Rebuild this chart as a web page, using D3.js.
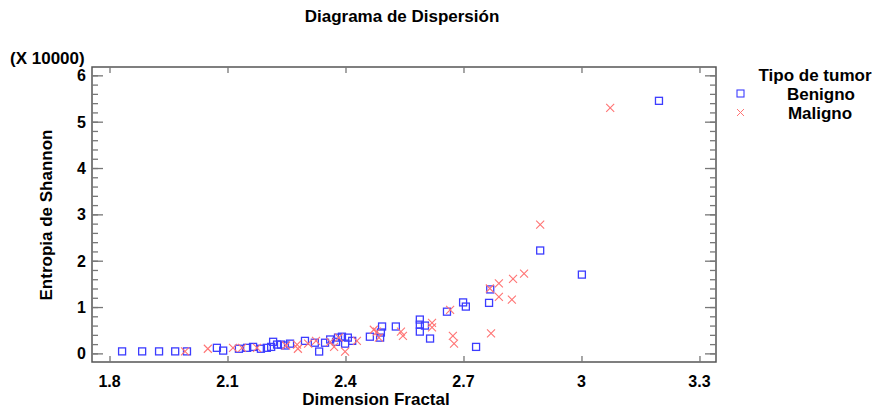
<!DOCTYPE html>
<html>
<head>
<meta charset="utf-8">
<script src="https://cdn.jsdelivr.net/npm/d3@7"></script>
<style>
  html, body { margin: 0; padding: 0; background: #fff; }
  text { font-family: "Liberation Sans", Arial, sans-serif; font-weight: bold; fill: #000; }
</style>
</head>
<body>
<svg id="chart" width="878" height="410"></svg>
<script>
// ---- data (y in units of 10000) ----
const benignoX = [1.832,1.883,1.926,1.967,1.997,2.073,2.089,2.129,2.150,2.165,2.185,2.200,2.211,2.216,2.226,2.236,2.246,2.259,2.297,2.322,2.333,2.348,2.361,2.376,2.381,2.391,2.399,2.406,2.417,2.462,2.493,2.490,2.488,2.528,2.589,2.589,2.602,2.589,2.615,2.658,2.699,2.706,2.732,2.765,2.768,2.895,3.001,3.197];
const benignoY = [0.043,0.043,0.043,0.043,0.043,0.12,0.06,0.10,0.12,0.14,0.10,0.12,0.14,0.25,0.19,0.19,0.17,0.21,0.27,0.23,0.04,0.23,0.30,0.25,0.34,0.36,0.21,0.34,0.27,0.36,0.58,0.45,0.34,0.58,0.73,0.62,0.60,0.47,0.32,0.90,1.10,1.01,0.14,1.09,1.38,2.22,1.70,5.45];
const malignoX = [1.992,2.050,2.114,2.137,2.175,2.249,2.277,2.279,2.305,2.325,2.361,2.371,2.383,2.399,2.429,2.472,2.480,2.485,2.541,2.546,2.620,2.620,2.666,2.673,2.676,2.770,2.767,2.790,2.790,2.823,2.826,2.854,2.895,3.073];
const malignoY = [0.043,0.10,0.12,0.12,0.12,0.17,0.19,0.10,0.21,0.27,0.25,0.14,0.34,0.04,0.27,0.51,0.47,0.34,0.47,0.38,0.66,0.56,0.94,0.38,0.21,0.43,1.40,1.51,1.22,1.16,1.61,1.72,2.78,5.30];
const xTicks = [1.8, 2.1, 2.4, 2.7, 3.0, 3.3];
const xTickLabels = ["1.8", "2.1", "2.4", "2.7", "3", "3.3"];
const yTicks = [0, 1, 2, 3, 4, 5, 6];
const yMinorTicks = d3.range(-0.0, 6.01, 0.2).map(v => +v.toFixed(1));
const seriesNames = ["Benigno", "Maligno"];

const svg = d3.select("#chart");
const L = 92, R = 716, T = 67, B = 362;
const x = d3.scaleLinear().domain([1.7555, 3.342]).range([L, R]);
const y = d3.scaleLinear().domain([-0.186, 6.18]).range([B, T]);

const blue = "#3c3cff", red = "#ff7474", axisCol = "#555";

// title
svg.append("text").attr("x", 402).attr("y", 22).attr("text-anchor", "middle")
  .style("font-size", "17px").text("Diagrama de Dispersión");
svg.append("text").attr("x", 10).attr("y", 64).style("font-size", "17px").text("(X 10000)");

// frame
svg.append("rect").attr("x", L).attr("y", T).attr("width", R - L).attr("height", B - T)
  .attr("fill", "none").attr("stroke", axisCol).attr("stroke-width", 1.5);

// axes via d3
const gB = svg.append("g").attr("transform", `translate(0,${B})`)
  .call(d3.axisTop(x).tickValues(xTicks).tickSize(6).tickFormat(""));
const gT = svg.append("g").attr("transform", `translate(0,${T})`)
  .call(d3.axisBottom(x).tickValues(xTicks).tickSize(6).tickFormat(""));
const gLmin = svg.append("g").attr("transform", `translate(${L},0)`)
  .call(d3.axisRight(y).tickValues(yMinorTicks).tickSize(6).tickFormat(""));
const gLmaj = svg.append("g").attr("transform", `translate(${L},0)`)
  .call(d3.axisRight(y).tickValues(yTicks).tickSize(11).tickFormat(""));
const gRmin = svg.append("g").attr("transform", `translate(${R},0)`)
  .call(d3.axisLeft(y).tickValues(yMinorTicks).tickSize(6).tickFormat(""));
const gRmaj = svg.append("g").attr("transform", `translate(${R},0)`)
  .call(d3.axisLeft(y).tickValues(yTicks).tickSize(11).tickFormat(""));
[gB, gT, gLmin, gLmaj, gRmin, gRmaj].forEach(g => {
  g.select(".domain").remove();
  g.selectAll("line").attr("stroke", "#777").attr("stroke-width", 1.3);
});

// tick labels
svg.append("g").selectAll("text").data(xTicks).join("text")
  .attr("x", d => x(d)).attr("y", 387).attr("text-anchor", "middle")
  .style("font-size", "16px").text((d, i) => xTickLabels[i]);
svg.append("g").selectAll("text").data(yTicks).join("text")
  .attr("x", 86).attr("y", d => y(d) + 6).attr("text-anchor", "end")
  .style("font-size", "16px").text(d => d);

// axis titles
svg.append("text").attr("x", 376).attr("y", 405).attr("text-anchor", "middle")
  .style("font-size", "17px").text("Dimension Fractal");
svg.append("text").attr("transform", "translate(52,215) rotate(-90)").attr("text-anchor", "middle")
  .style("font-size", "17px").text("Entropia de Shannon");

// points
const bData = benignoX.map((v, i) => [v, benignoY[i]]);
const mData = malignoX.map((v, i) => [v, malignoY[i]]);
const s = 3.5;
svg.append("g").selectAll("rect").data(bData).join("rect")
  .attr("x", d => x(d[0]) - s).attr("y", d => y(d[1]) - s)
  .attr("width", 2 * s).attr("height", 2 * s)
  .attr("fill", "none").attr("stroke", blue).attr("stroke-width", 1.3);
const c = 4;
svg.append("g").selectAll("path").data(mData).join("path")
  .attr("d", d => {
    const px = x(d[0]), py = y(d[1]);
    return `M${px - c},${py - c}L${px + c},${py + c}M${px - c},${py + c}L${px + c},${py - c}`;
  })
  .attr("fill", "none").attr("stroke", red).attr("stroke-width", 1.1);

// legend
const lg = svg.append("g");
lg.append("text").attr("x", 815).attr("y", 81).attr("text-anchor", "middle")
  .style("font-size", "17px").text("Tipo de tumor");
lg.append("rect").attr("x", 737).attr("y", 90).attr("width", 7).attr("height", 7)
  .attr("fill", "none").attr("stroke", blue).attr("stroke-width", 1.1);
lg.append("path").attr("d", "M737,109L744,116M737,116L744,109")
  .attr("fill", "none").attr("stroke", red).attr("stroke-width", 1);
lg.append("text").attr("x", 821).attr("y", 100).attr("text-anchor", "middle")
  .style("font-size", "17px").text(seriesNames[0]);
lg.append("text").attr("x", 820).attr("y", 119).attr("text-anchor", "middle")
  .style("font-size", "17px").text(seriesNames[1]);
</script>
</body>
</html>
